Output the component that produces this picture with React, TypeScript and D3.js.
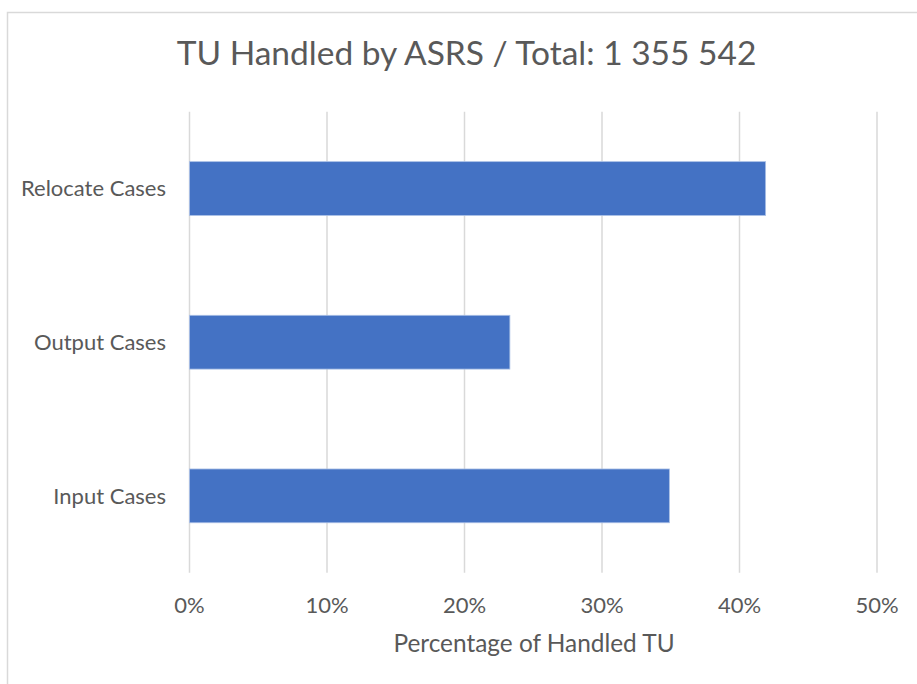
import React from "react";
import * as d3 from "d3";

// Share of transport units handled by the ASRS, per case type
const categories: string[] = ["Relocate Cases", "Output Cases", "Input Cases"];
const shares: number[] = [0.419, 0.233, 0.349];
const xTicks: number[] = [0, 0.1, 0.2, 0.3, 0.4, 0.5];
const chartTitle = "TU Handled by ASRS / Total: 1 355 542";
const xAxisTitle = "Percentage of Handled TU";

const W = 917;
const H = 684;
const FONT = "Lato, 'Open Sans', sans-serif";
const TEXT = "#595959";

export default function App() {
  const plot = { left: 189.5, right: 877, top: 111.7, bottom: 572.7 };

  const x = d3.scaleLinear().domain([0, 0.5]).range([plot.left, plot.right]);
  const y = d3
    .scaleBand<string>()
    .domain(categories)
    .range([plot.top, plot.bottom])
    .paddingInner(0.65)
    .paddingOuter(0.325);
  const fmt = d3.format(".0%");

  return (
    <svg
      width={W}
      height={H}
      style={{ position: "absolute", left: 0, top: 0, background: "#fff" }}
      fontFamily={FONT}
    >
      <rect x={7.5} y={12.5} width={W + 20} height={H + 20} fill="#fff" stroke="#d9d9d9" strokeWidth={1.5} />

      <text x={466.5} y={65} textAnchor="middle" fontSize={33.5} fill={TEXT}>
        {chartTitle}
      </text>

      {xTicks.map((t) => (
        <line
          key={`g${t}`}
          x1={x(t)}
          x2={x(t)}
          y1={plot.top}
          y2={plot.bottom}
          stroke="#d9d9d9"
          strokeWidth={1.5}
        />
      ))}

      {categories.map((c, i) => (
        <rect
          key={c}
          x={x(0)}
          y={y(c)!}
          width={x(shares[i]) - x(0)}
          height={y.bandwidth()}
          fill="#4472C4"
          stroke="#aac0e6"
          strokeWidth={0.8}
        />
      ))}

      {categories.map((c) => (
        <text
          key={`l${c}`}
          x={166}
          y={y(c)! + y.bandwidth() / 2}
          dy="0.35em"
          textAnchor="end"
          fontSize={22}
          fill={TEXT}
        >
          {c}
        </text>
      ))}

      {xTicks.map((t) => (
        <text key={`t${t}`} x={x(t)} y={612.5} textAnchor="middle" fontSize={22} fill={TEXT}>
          {fmt(t)}
        </text>
      ))}

      <text x={534} y={652} textAnchor="middle" fontSize={24.4} fill={TEXT}>
        {xAxisTitle}
      </text>
    </svg>
  );
}
